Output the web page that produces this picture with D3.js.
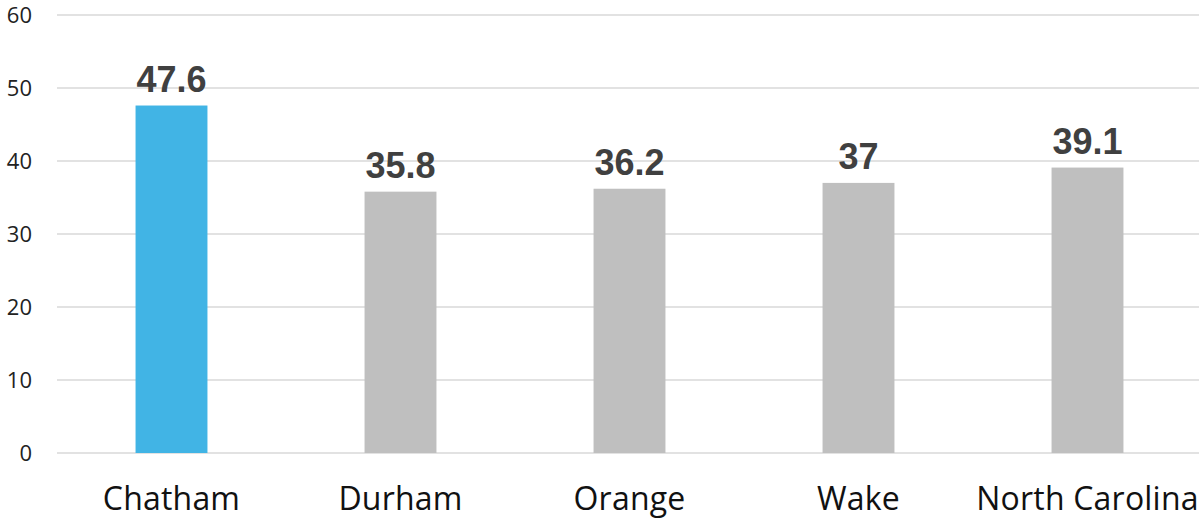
<!DOCTYPE html>
<html><head><meta charset="utf-8">
<script src="https://cdn.jsdelivr.net/npm/d3@7"></script>
<style>body{margin:0;background:#fff;}</style>
</head><body>
<svg id="c" width="1199" height="521"></svg>
<script>
const categories = ["Chatham","Durham","Orange","Wake","North Carolina"];
const values = [47.6, 35.8, 36.2, 37, 39.1];
const colors = ["#41b4e5","#bfbfbf","#bfbfbf","#bfbfbf","#bfbfbf"];
const yTicks = [0,10,20,30,40,50,60];

const svg = d3.select("#c");
const x = d3.scaleBand().domain(categories).range([57, 1202]).paddingInner(0.686).paddingOuter(0.343);
const y = d3.scaleLinear().domain([0, 60]).range([453, 15]);

svg.append("g").selectAll("line").data(yTicks).join("line")
  .attr("x1", 57).attr("x2", 1199)
  .attr("y1", d => y(d)).attr("y2", d => y(d))
  .attr("stroke", "#d9d9d9").attr("stroke-width", 1.3);

svg.append("g").selectAll("text").data(yTicks).join("text")
  .attr("x", 32).attr("y", d => y(d)).attr("dy", "0.36em")
  .attr("text-anchor", "end")
  .attr("font-family", "'Open Sans', 'DejaVu Sans', sans-serif")
  .attr("font-size", 22).attr("fill", "#222")
  .text(d => d);

svg.append("g").selectAll("rect").data(values).join("rect")
  .attr("x", (d,i) => x(categories[i]))
  .attr("width", x.bandwidth())
  .attr("y", d => y(d))
  .attr("height", d => y(0) - y(d))
  .attr("fill", (d,i) => colors[i]);

svg.append("g").selectAll("text").data(values).join("text")
  .attr("x", (d,i) => x(categories[i]) + x.bandwidth()/2)
  .attr("y", d => y(d) - 14)
  .attr("text-anchor", "middle")
  .attr("font-family", "'Liberation Sans', Arial, sans-serif")
  .attr("font-weight", "bold")
  .attr("font-size", 36).attr("fill", "#404040")
  .text(d => d);

svg.append("g").selectAll("text").data(categories).join("text")
  .attr("x", d => x(d) + x.bandwidth()/2)
  .attr("y", 510)
  .attr("text-anchor", "middle")
  .attr("font-family", "'Open Sans', 'DejaVu Sans', sans-serif")
  .attr("font-size", 32).attr("letter-spacing", 0.2).attr("fill", "#111")
  .text(d => d);
</script>
</body></html>
